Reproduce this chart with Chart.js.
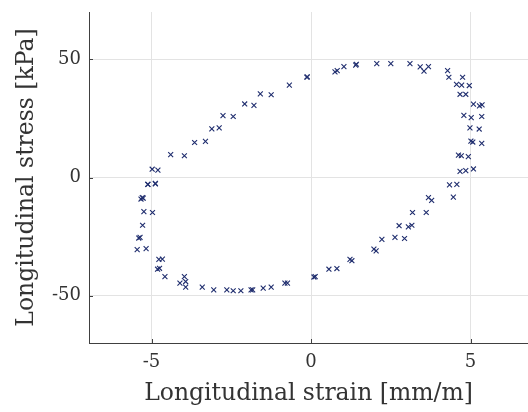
<!DOCTYPE html>
<html>
<head>
<meta charset="utf-8">
<script src="https://cdn.jsdelivr.net/npm/chart.js@4/dist/chart.umd.min.js"></script>
<style>
  html, body { margin: 0; padding: 0; background: #fff; }
  #wrap { width: 528px; height: 412px; }
</style>
</head>
<body>
<div id="wrap"><canvas id="loopChart" width="528" height="412"></canvas></div>
<script>
// hysteresis loop
const strain = [
  -5.29, -5.11, -4.88, -4.98, -4.80, -4.40, -3.97, -3.65, -3.31, -3.11, -2.88, -2.76, -2.44,
  -2.08, -1.79, -1.59, -1.25, -0.68, -0.13, -0.12, 0.75, 0.82, 1.03, 1.40, 1.42, 2.06, 2.50,
  3.10, 3.42, 3.68, 3.54, 4.28, 4.32, 4.75, 4.56, 4.72, 4.96, 4.67, 4.85, 5.09, 5.28, 5.36,
  4.79, 5.02, 5.35, 4.98, 5.27, 5.01, 5.07, 5.35, 4.62, 4.71, 4.93, 4.67, 4.85, 5.09, 4.34,
  4.57, 4.46, 3.68, 3.78, 3.18, 3.61, 2.76, 3.05, 3.16, 2.22, 2.63, 2.93, 1.97, 2.04, 1.22,
  1.28, 0.56, 0.81, 0.09, 0.13, -0.74, -0.82, -1.25, -1.50, -1.83, -1.88, -2.20, -2.44,
  -2.64, -3.05, -3.41, -3.93, -3.93, -3.97, -4.11, -4.58, -4.75, -4.81, -4.66, -4.77, -5.17,
  -5.45, -5.36, -5.40, -5.28, -4.97, -5.24, -5.26, -5.33, -5.12, -4.88
];
const stress = [
  -8.5, -2.9, -2.5, 3.5, 3.1, 9.7, 9.2, 14.8, 15.3, 20.6, 21.0, 26.2, 25.8,
  31.1, 30.5, 35.4, 35.0, 39.1, 42.4, 42.6, 44.7, 45.2, 46.9, 47.5, 47.9, 48.2, 48.2,
  48.2, 46.8, 46.9, 45.0, 45.2, 42.4, 42.4, 39.4, 39.1, 38.9, 35.2, 35.2, 31.0, 30.3, 30.7,
  26.3, 25.3, 25.8, 21.0, 20.5, 15.4, 15.0, 14.4, 9.5, 9.2, 8.8, 2.6, 2.9, 3.6, -3.1,
  -2.9, -8.3, -8.5, -9.7, -14.8, -14.8, -20.4, -20.9, -20.2, -26.2, -25.3, -25.8, -30.3, -31.0, -34.6,
  -35.2, -38.8, -38.5, -42.1, -41.9, -44.7, -44.7, -46.4, -46.8, -47.5, -47.5, -47.9, -47.9,
  -47.5, -47.5, -46.4, -46.4, -44.0, -41.9, -44.7, -41.9, -38.4, -38.8, -34.5, -34.6, -30.1,
  -30.5, -25.3, -25.6, -20.2, -14.8, -14.4, -8.7, -9.1, -2.9, -2.7
];
const xTicks = [-5, 0, 5];
const yTicks = [-50, 0, 50];

const points = strain.map((x, i) => ({ x: x, y: stress[i] }));
const serif = "'DejaVu Serif', 'Liberation Serif', serif";

// small inward tick marks on the axes, like the original figure
const innerTicks = {
  id: 'innerTicks',
  afterDraw(chart) {
    const { ctx, chartArea: a, scales: { x, y } } = chart;
    ctx.save();
    ctx.strokeStyle = '#404040';
    ctx.lineWidth = 1;
    ctx.beginPath();
    xTicks.forEach(v => {
      const px = Math.round(x.getPixelForValue(v)) + 0.5;
      ctx.moveTo(px, a.bottom);
      ctx.lineTo(px, a.bottom - 4);
    });
    yTicks.forEach(v => {
      const py = Math.round(y.getPixelForValue(v)) + 0.5;
      ctx.moveTo(a.left, py);
      ctx.lineTo(a.left + 4, py);
    });
    ctx.stroke();
    ctx.restore();
  }
};

new Chart(document.getElementById('loopChart'), {
  type: 'scatter',
  data: {
    datasets: [{
      data: points,
      pointStyle: 'crossRot',
      pointRadius: 3.5,
      pointBorderWidth: 1.1,
      borderColor: '#1f2d6e',
      backgroundColor: '#1f2d6e'
    }]
  },
  options: {
    responsive: false,
    animation: false,
    layout: { autoPadding: false, padding: { top: 12, right: 0, left: 0, bottom: 0 } },
    plugins: { legend: { display: false }, tooltip: { enabled: false } },
    scales: {
      x: {
        type: 'linear',
        min: -6.96, max: 6.8,
        afterBuildTicks: s => { s.ticks = xTicks.map(v => ({ value: v })); },
        afterFit: s => { s.height = 69; s.paddingLeft = 0; s.paddingRight = 0; },
        grid: { color: '#e3e3e3', drawTicks: false },
        border: { color: '#404040', width: 1 },
        ticks: { color: '#333333', padding: 9, font: { family: serif, size: 18 } },
        title: { display: true, text: 'Longitudinal strain [mm/m]', color: '#333333',
                 padding: { top: 0 }, font: { family: serif, size: 23.5 } }
      },
      y: {
        type: 'linear',
        min: -70, max: 70,
        afterBuildTicks: s => { s.ticks = yTicks.map(v => ({ value: v })); },
        afterFit: s => { s.width = 89; s.paddingTop = 0; s.paddingBottom = 0; },
        grid: { color: '#e3e3e3', drawTicks: false },
        border: { color: '#404040', width: 1 },
        ticks: { color: '#333333', padding: 8, font: { family: serif, size: 18 } },
        title: { display: true, text: 'Longitudinal stress [kPa]', color: '#333333',
                 padding: { top: 13, bottom: 0 }, font: { family: serif, size: 23.5 } }
      }
    }
  },
  plugins: [innerTicks]
});
</script>
</body>
</html>
